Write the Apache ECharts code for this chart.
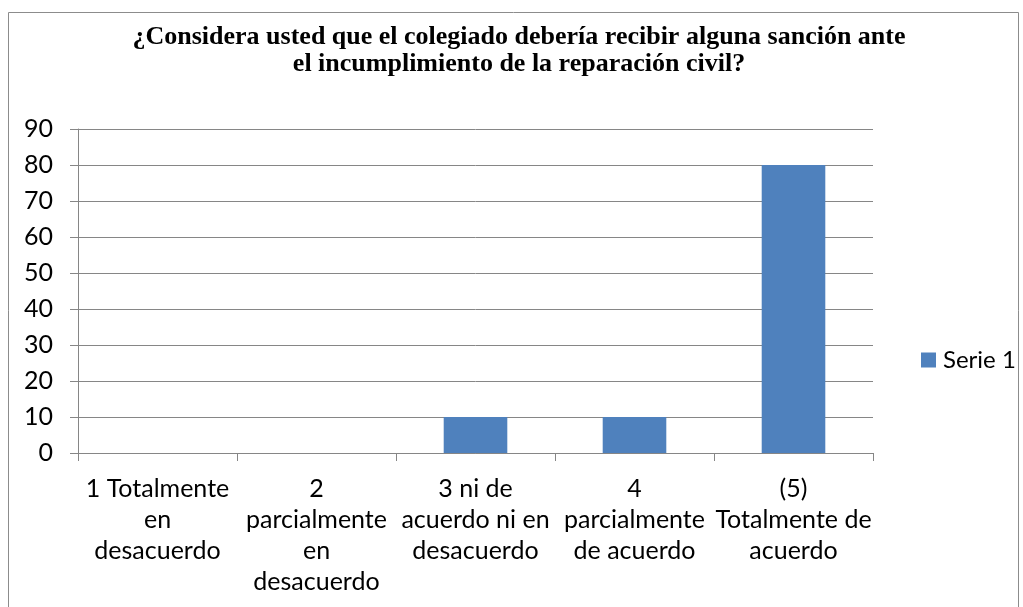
<!DOCTYPE html>
<html>
<head>
<meta charset="utf-8">
<script src="https://cdn.jsdelivr.net/npm/echarts@6/dist/echarts.min.js"></script>
<style>
  html, body { margin: 0; padding: 0; background: #fff; }
  #chart { width: 1023px; height: 607px; }
</style>
</head>
<body>
<div id="chart"></div>
<script>
// categorias del eje x (con saltos de linea como en el original)
const categorias = [
  '1 Totalmente\nen\ndesacuerdo',
  '2\nparcialmente\nen\ndesacuerdo',
  '3 ni de\nacuerdo ni en\ndesacuerdo',
  '4\nparcialmente\nde acuerdo',
  '(5)\nTotalmente de\nacuerdo'
]
const serie1 = [0, 0, 10, 10, 80]
const nombreSerie = 'Serie 1'
const titulo = '¿Considera usted que el colegiado debería recibir alguna sanción ante\nel incumplimiento de la reparación civil?'

const chart = echarts.init(document.getElementById('chart'))
const fuente = 'Lato, "Open Sans", sans-serif'

const option = {
  backgroundColor: '#fff',
  animation: false,
  graphic: [{
    type: 'rect',
    shape: { x: 8.5, y: 12.5, width: 1010, height: 620 },
    style: { fill: 'none', stroke: '#8c8c8c', lineWidth: 1 },
    silent: true
  }],
  title: {
    text: titulo,
    left: 514,
    top: 19,
    textAlign: 'center',
    textStyle: {
      fontFamily: '"Liberation Serif", "Times New Roman", serif',
      fontWeight: 'bold',
      fontSize: 26,
      lineHeight: 27,
      color: '#000'
    }
  },
  legend: {
    orient: 'vertical',
    left: 916,
    top: 343,
    itemWidth: 15,
    itemHeight: 15,
    itemGap: 6,
    icon: 'rect',
    textStyle: { fontFamily: fuente, fontSize: 24, color: '#000', padding: [0, 0, 0, 2] },
    data: [nombreSerie]
  },
  grid: { left: 78, right: 150, top: 129, bottom: 154 },
  xAxis: {
    type: 'category',
    data: categorias,
    axisLine: { lineStyle: { color: '#868686', width: 1 } },
    axisTick: { show: true, length: 8, lineStyle: { color: '#868686' } },
    axisLabel: {
      interval: 0,
      margin: 20,
      fontFamily: fuente,
      fontSize: 25,
      lineHeight: 31,
      color: '#000'
    }
  },
  yAxis: {
    type: 'value',
    min: 0,
    max: 90,
    interval: 10,
    axisLine: { show: true, lineStyle: { color: '#868686', width: 1 } },
    axisTick: { show: true, inside: false, length: 8, lineStyle: { color: '#868686' } },
    axisLabel: { margin: 25, fontFamily: fuente, fontSize: 25, color: '#000' },
    splitLine: { lineStyle: { color: '#868686', width: 1 } }
  },
  series: [{
    name: nombreSerie,
    type: 'bar',
    data: serie1,
    barWidth: '40%',
    itemStyle: { color: '#4F81BD' }
  }]
}

chart.setOption(option)
</script>
</body>
</html>
